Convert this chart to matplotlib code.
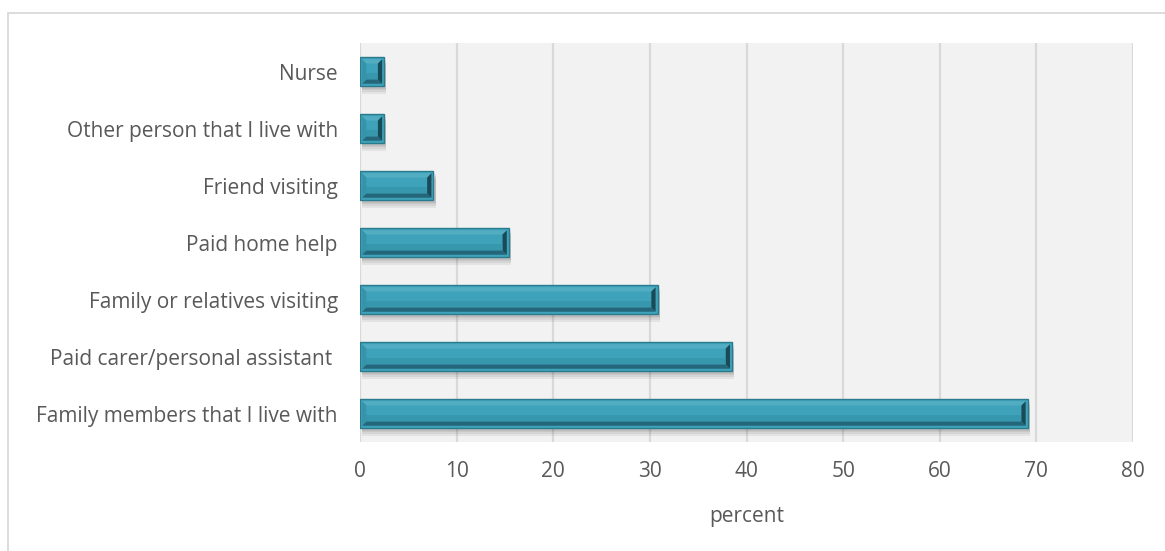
import matplotlib
matplotlib.use("Agg")
import matplotlib.pyplot as plt
from matplotlib.patches import Rectangle, Polygon
from matplotlib.transforms import IdentityTransform
import matplotlib.patheffects as pe

plt.rcParams['font.family'] = ['Open Sans', 'DejaVu Sans']

categories = [
    "Nurse",
    "Other person that I live with",
    "Friend visiting",
    "Paid home help",
    "Family or relatives visiting",
    "Paid carer/personal assistant ",
    "Family members that I live with",
]
percent = [2.5, 2.5, 7.6, 15.4, 30.8, 38.5, 69.1]
x_ticks = [0, 10, 20, 30, 40, 50, 60, 70, 80]
x_label = "percent"

W, H, DPI = 11.65, 5.51, 100
fig = plt.figure(figsize=(W, H), dpi=DPI)
fig.patch.set_facecolor("white")

# chart frame
fig.patches.append(Rectangle((8 / 1165, -0.05), 1.2, (551 - 13) / 551 + 0.05,
                             transform=fig.transFigure, fill=False,
                             edgecolor="#d9d9d9", linewidth=1.3, zorder=0))

ax = fig.add_axes([360 / 1165, 109 / 551, 773 / 1165, 399 / 551])
ax.set_facecolor("#f2f2f2")
for s in ax.spines.values():
    s.set_visible(False)

ypos = list(range(len(categories)))
ax.set_xlim(x_ticks[0], x_ticks[-1])
ax.set_ylim(len(categories) - 0.5, -0.5)
ax.set_xticks(x_ticks)
ax.set_yticks(ypos)
ax.set_yticklabels(categories)
ax.tick_params(axis="both", length=0, labelsize=15, labelcolor="#595959")
ax.tick_params(axis="y", pad=16)
ax.tick_params(axis="x", pad=14)
ax.set_xlabel(x_label, fontsize=15, color="#595959", labelpad=17)
ax.xaxis.grid(True, color="#d9d9d9", linewidth=1.6, zorder=0)
ax.set_axisbelow(True)

shadow = [pe.SimplePatchShadow(offset=(1.5, -2.0 - k * 1.2), shadow_rgbFace="#000000",
                               alpha=0.06) for k in range(4)] + [pe.Normal()]
bars = ax.barh(ypos, percent, height=0.5, color="#3ea3ba", edgecolor="#2b7b8e",
               linewidth=1.0, zorder=3, path_effects=shadow)

fig.canvas.draw()

# bevel shading on each bar, built from the drawn bar's extent
for b in bars:
    bb = b.get_window_extent()
    x0, x1, y0, y1 = bb.x0, bb.x1, bb.y0, bb.y1
    h = y1 - y0
    e = min(h * 0.15, (x1 - x0) * 0.2)
    ix0, ix1, iy0, iy1 = x0 + 2, x1 - 2, y0 + 2, y1 - 2
    kw = dict(transform=IdentityTransform(), zorder=4, linewidth=0)
    # top bevel (light)
    ax.add_patch(Polygon([(ix0, iy1), (ix1, iy1), (ix1 - e, iy1 - e), (ix0 + e, iy1 - e)],
                         facecolor="#52adc2", **kw))
    # bottom bevel (dark)
    ax.add_patch(Polygon([(ix0, iy0), (ix1, iy0), (ix1 - e, iy0 + e), (ix0 + e, iy0 + e)],
                         facecolor="#24677a", **kw))
    # right bevel (darkest)
    ax.add_patch(Polygon([(ix1, iy0), (ix1, iy1), (ix1 - e, iy1 - e), (ix1 - e, iy0 + e)],
                         facecolor="#1a4a57", **kw))
    # left bevel (mid)
    ax.add_patch(Polygon([(ix0, iy0), (ix0, iy1), (ix0 + e, iy1 - e), (ix0 + e, iy0 + e)],
                         facecolor="#3594aa", **kw))
    # soft gradient across the face
    fh = h - 4 - 2 * e
    ax.add_patch(Polygon([(ix0 + e, iy0 + e), (ix1 - e, iy0 + e),
                          (ix1 - e, iy0 + e + fh * 0.4), (ix0 + e, iy0 + e + fh * 0.4)],
                         facecolor="#338ea3", alpha=0.55, **kw))

fig.savefig("out.png", dpi=DPI)
